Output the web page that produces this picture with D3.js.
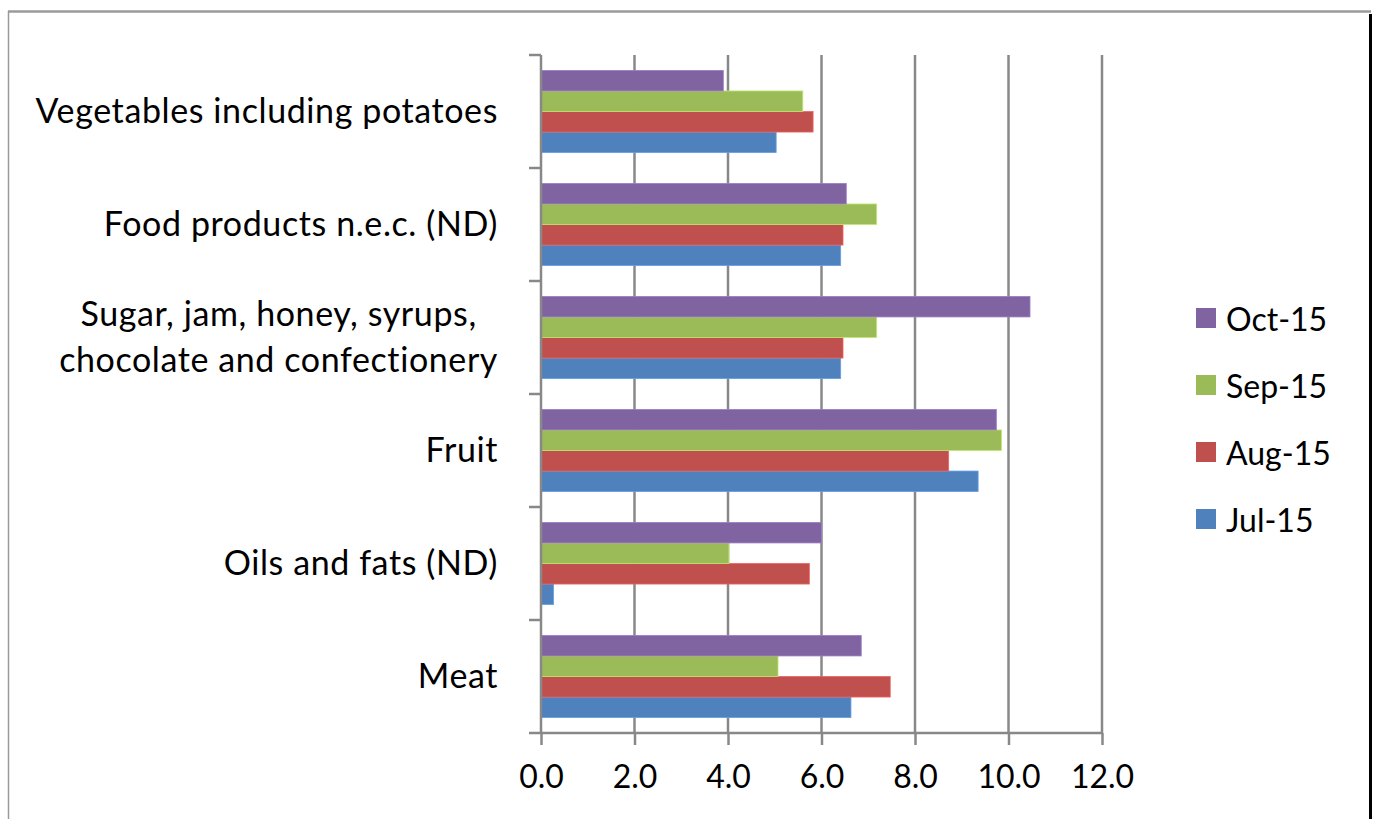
<!DOCTYPE html>
<html>
<head>
<meta charset="utf-8">
<script src="https://cdn.jsdelivr.net/npm/d3@7"></script>
<style>
  html, body { margin: 0; padding: 0; background: #fff; }
  svg { display: block; }
  text { font-family: Lato, "Open Sans", sans-serif; fill: #000; }
</style>
</head>
<body>
<svg id="chart" width="1375" height="819"></svg>
<script>
// Categories, listed bottom to top as in the source table
const categories = [
  "Meat",
  "Oils and fats (ND)",
  "Fruit",
  "Sugar, jam, honey, syrups,\nchocolate and confectionery",
  "Food products n.e.c. (ND)",
  "Vegetables including potatoes"
];
const seriesNames = ["Jul-15", "Aug-15", "Sep-15", "Oct-15"];
const jul15 = [6.63, 0.27, 9.35, 6.41, 6.41, 5.03];
const aug15 = [7.47, 5.74, 8.72, 6.46, 6.46, 5.82];
const sep15 = [5.07, 4.02, 9.85, 7.18, 7.18, 5.60];
const oct15 = [6.85, 6.00, 9.74, 10.46, 6.53, 3.90];
const xTicks = [0, 2, 4, 6, 8, 10, 12];
const colors = { "Jul-15": "#4F81BD", "Aug-15": "#C0504D", "Sep-15": "#9BBB59", "Oct-15": "#8064A2" };

const seriesValues = { "Jul-15": jul15, "Aug-15": aug15, "Sep-15": sep15, "Oct-15": oct15 };
const rows = categories.map((c, i) => ({
  category: c,
  values: seriesNames.map(s => ({ series: s, value: seriesValues[s][i] }))
}));

const svg = d3.select("#chart");
const plot = { left: 541, right: 1102, top: 55, bottom: 733 };
const FONT = 32;
const LABEL_FONT = 34;

// Outer frame
svg.append("line").attr("x1", 8).attr("x2", 1371).attr("y1", 11.5).attr("y2", 11.5)
  .attr("stroke", "#9a9a9a").attr("stroke-width", 2.5);
svg.append("line").attr("x1", 8.5).attr("x2", 8.5).attr("y1", 11).attr("y2", 819)
  .attr("stroke", "#9a9a9a").attr("stroke-width", 1.5);
svg.append("line").attr("x1", 1370.5).attr("x2", 1370.5).attr("y1", 14).attr("y2", 819)
  .attr("stroke", "#000").attr("stroke-width", 3);

const x = d3.scaleLinear().domain([0, 12]).range([plot.left, plot.right]);
// Top-to-bottom order: last category at the top
const y = d3.scaleBand().domain(categories.slice().reverse()).range([plot.top, plot.bottom]);
const yInner = d3.scaleBand().domain(seriesNames.slice().reverse())
  .range([0, y.bandwidth()]).paddingInner(0).paddingOuter(0.75);

// Vertical gridlines
svg.append("g").selectAll("line").data(xTicks.filter(t => t > 0)).join("line")
  .attr("x1", d => x(d)).attr("x2", d => x(d))
  .attr("y1", plot.top).attr("y2", plot.bottom)
  .attr("stroke", "#888").attr("stroke-width", 2.5);

// Bars
const groups = svg.append("g").selectAll("g").data(rows).join("g")
  .attr("transform", d => `translate(0,${y(d.category)})`);
groups.selectAll("rect").data(d => d.values).join("rect")
  .attr("x", x(0))
  .attr("y", d => yInner(d.series))
  .attr("width", d => x(d.value) - x(0))
  .attr("height", yInner.bandwidth())
  .attr("fill", d => colors[d.series])
  .attr("stroke", d => d3.color(colors[d.series]).brighter(0.6))
  .attr("stroke-width", 0.8);

// X axis
const xAxis = d3.axisBottom(x).tickValues(xTicks).tickFormat(d3.format(".1f"))
  .tickSize(12).tickPadding(20);
const gx = svg.append("g").attr("transform", `translate(0,${plot.bottom})`).call(xAxis);
gx.select(".domain").attr("d", `M${plot.left - 12},0H${plot.right}`)
  .attr("stroke", "#888").attr("stroke-width", 2.5);
gx.selectAll(".tick line").attr("stroke", "#888").attr("stroke-width", 2.5);
gx.selectAll(".tick text").style("font-size", FONT + "px").style("font-family", "Lato, 'Open Sans', sans-serif")
  .attr("fill", "#000").attr("dy", "0.71em");

// Y axis line and tick marks at band boundaries
const yAxisG = svg.append("g");
yAxisG.append("line").attr("x1", plot.left).attr("x2", plot.left)
  .attr("y1", plot.top).attr("y2", plot.bottom).attr("stroke", "#888").attr("stroke-width", 2.5);
const boundaries = categories.slice().reverse().map(c => y(c));
yAxisG.selectAll("line.tick").data(boundaries).join("line").attr("class", "tick")
  .attr("x1", plot.left - 12).attr("x2", plot.left)
  .attr("y1", d => d).attr("y2", d => d)
  .attr("stroke", "#888").attr("stroke-width", 2.5);

// Category labels, right aligned; multi-line labels centred on each other
const labelRight = 498;
const lineHeight = 46;
rows.forEach(r => {
  const lines = r.category.split("\n");
  const cy = y(r.category) + y.bandwidth() / 2 - 2;
  const t = svg.append("text").style("font-size", LABEL_FONT + "px").style("letter-spacing", "0.6px");
  const spans = lines.map((ln, i) => t.append("tspan").text(ln)
    .attr("y", cy + (i - (lines.length - 1) / 2) * lineHeight)
    .attr("dominant-baseline", "central"));
  if (lines.length === 1) {
    t.attr("text-anchor", "end");
    spans[0].attr("x", labelRight);
  } else {
    const w = d3.max(spans, s => s.node().getComputedTextLength());
    t.attr("text-anchor", "middle");
    spans.forEach(s => s.attr("x", labelRight - w / 2));
  }
});

// Legend (latest month on top)
const legendItems = seriesNames.slice().reverse();
const legend = svg.append("g").selectAll("g").data(legendItems).join("g")
  .attr("transform", (d, i) => `translate(1196,${318 + i * 67})`);
legend.append("rect").attr("x", 0).attr("y", -10).attr("width", 20).attr("height", 20)
  .attr("fill", d => colors[d]);
legend.append("text").attr("x", 30).attr("y", 0).attr("dominant-baseline", "central")
  .style("font-size", FONT + "px").text(d => d);
</script>
</body>
</html>
